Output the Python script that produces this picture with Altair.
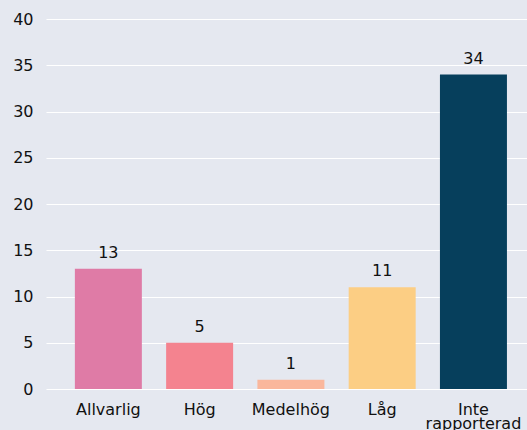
import altair as alt
import pandas as pd

categories = ["Allvarlig", "Hög", "Medelhög", "Låg", "Inte rapporterad"]
values = [13, 5, 1, 11, 34]
colors = ["#DF7BA6", "#F4838F", "#FAB79C", "#FCCE84", "#063F5C"]
y_ticks = [0, 5, 10, 15, 20, 25, 30, 35, 40]

BG = "#E5E8F0"
FONT = "DejaVu Sans"

df = pd.DataFrame({"category": categories, "value": values})

base = alt.Chart(df).encode(
    x=alt.X(
        "category:N",
        sort=categories,
        scale=alt.Scale(paddingInner=0.266, paddingOuter=0.268, align=0.59),
        axis=alt.Axis(
            title=None,
            labelAngle=0,
            domain=False,
            ticks=False,
            tickSize=0,
            grid=False,
            labelPadding=12,
            labelFontSize=16,
            labelFont=FONT,
            labelColor="#111111",
            labelLineHeight=14.5,
            labelExpr="datum.label == 'Inte rapporterad' ? ['Inte', 'rapporterad'] : datum.label",
        ),
    ),
    y=alt.Y(
        "value:Q",
        scale=alt.Scale(domain=[0, 40], nice=False),
        axis=alt.Axis(
            title=None,
            values=y_ticks,
            domain=False,
            ticks=False,
            tickSize=0,
            labelPadding=13,
            labelFontSize=16,
            labelFont=FONT,
            labelColor="#111111",
            grid=True,
            gridColor="#FFFFFF",
            gridWidth=1.2,
        ),
    ),
)

bars = base.mark_bar().encode(
    color=alt.Color(
        "category:N",
        scale=alt.Scale(domain=categories, range=colors),
        legend=None,
    )
)

text = base.mark_text(
    dy=-8, baseline="bottom", fontSize=16, font=FONT, color="#111111"
).encode(text="value:Q")

chart = (
    alt.layer(bars, text)
    .properties(
        width=481,
        height=370,
        autosize=alt.AutoSizeParams(type="none"),
        padding={"left": 46, "top": 19, "right": 0, "bottom": 41},
        background=BG,
    )
    .configure_view(stroke=None)
)

chart.save("out.html", embed_options={"renderer": "svg", "actions": False})

# the reference is full-bleed: drop the page margin and colour the page like the chart
with open("out.html", encoding="utf-8") as f:
    html = f.read()
html = html.replace(
    "<head>",
    "<head><style>html,body{margin:0;padding:0;background:%s;overflow:hidden;}</style>" % BG,
    1,
)
with open("out.html", "w", encoding="utf-8") as f:
    f.write(html)
